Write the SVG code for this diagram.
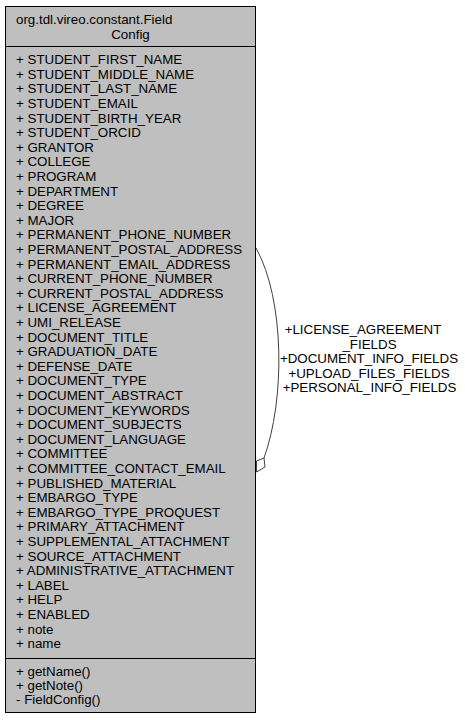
<svg xmlns="http://www.w3.org/2000/svg" width="465" height="720" viewBox="0 0 465 720">
<style>
text{font-family:"Liberation Sans",Arial,sans-serif;font-size:13.33px;fill:#000}
.box{fill:#bfbfbf;stroke:#000;stroke-width:1}
.div{stroke:#000;stroke-width:1}
.edge{fill:none;stroke:#404040;stroke-width:1}
.lbl{text-anchor:middle}
</style>
<rect width="465" height="720" fill="#fff"/>
<g id="connectors">
<path class="edge" d="M256,248 C285,300 285,400 264,458"/>
<polygon points="256.5,472 265,467 264,458 256.5,461" fill="#fff" stroke="#404040" stroke-width="1"/>
<text class="lbl" x="363" y="334">+LICENSE_AGREEMENT</text>
<text class="lbl" x="369.5" y="348.5">_FIELDS</text>
<text class="lbl" x="369" y="363">+DOCUMENT_INFO_FIELDS</text>
<text class="lbl" x="369" y="377.5">+UPLOAD_FILES_FIELDS</text>
<text class="lbl" x="369.5" y="392">+PERSONAL_INFO_FIELDS</text>
</g>
<g id="FieldConfig">
<rect class="box" x="5.5" y="6.5" width="250" height="706"/>
<line class="div" x1="5.5" y1="46.5" x2="255.5" y2="46.5"/>
<line class="div" x1="5.5" y1="658.5" x2="255.5" y2="658.5"/>
<text x="16" y="24.2">org.tdl.vireo.constant.Field</text>
<text x="130.5" y="38.8" text-anchor="middle">Config</text>
<text>
<tspan x="16" y="64.2">+ STUDENT_FIRST_NAME</tspan>
<tspan x="16" dy="14.6">+ STUDENT_MIDDLE_NAME</tspan>
<tspan x="16" dy="14.6">+ STUDENT_LAST_NAME</tspan>
<tspan x="16" dy="14.6">+ STUDENT_EMAIL</tspan>
<tspan x="16" dy="14.6">+ STUDENT_BIRTH_YEAR</tspan>
<tspan x="16" dy="14.6">+ STUDENT_ORCID</tspan>
<tspan x="16" dy="14.6">+ GRANTOR</tspan>
<tspan x="16" dy="14.6">+ COLLEGE</tspan>
<tspan x="16" dy="14.6">+ PROGRAM</tspan>
<tspan x="16" dy="14.6">+ DEPARTMENT</tspan>
<tspan x="16" dy="14.6">+ DEGREE</tspan>
<tspan x="16" dy="14.6">+ MAJOR</tspan>
<tspan x="16" dy="14.6">+ PERMANENT_PHONE_NUMBER</tspan>
<tspan x="16" dy="14.6">+ PERMANENT_POSTAL_ADDRESS</tspan>
<tspan x="16" dy="14.6">+ PERMANENT_EMAIL_ADDRESS</tspan>
<tspan x="16" dy="14.6">+ CURRENT_PHONE_NUMBER</tspan>
<tspan x="16" dy="14.6">+ CURRENT_POSTAL_ADDRESS</tspan>
<tspan x="16" dy="14.6">+ LICENSE_AGREEMENT</tspan>
<tspan x="16" dy="14.6">+ UMI_RELEASE</tspan>
<tspan x="16" dy="14.6">+ DOCUMENT_TITLE</tspan>
<tspan x="16" dy="14.6">+ GRADUATION_DATE</tspan>
<tspan x="16" dy="14.6">+ DEFENSE_DATE</tspan>
<tspan x="16" dy="14.6">+ DOCUMENT_TYPE</tspan>
<tspan x="16" dy="14.6">+ DOCUMENT_ABSTRACT</tspan>
<tspan x="16" dy="14.6">+ DOCUMENT_KEYWORDS</tspan>
<tspan x="16" dy="14.6">+ DOCUMENT_SUBJECTS</tspan>
<tspan x="16" dy="14.6">+ DOCUMENT_LANGUAGE</tspan>
<tspan x="16" dy="14.6">+ COMMITTEE</tspan>
<tspan x="16" dy="14.6">+ COMMITTEE_CONTACT_EMAIL</tspan>
<tspan x="16" dy="14.6">+ PUBLISHED_MATERIAL</tspan>
<tspan x="16" dy="14.6">+ EMBARGO_TYPE</tspan>
<tspan x="16" dy="14.6">+ EMBARGO_TYPE_PROQUEST</tspan>
<tspan x="16" dy="14.6">+ PRIMARY_ATTACHMENT</tspan>
<tspan x="16" dy="14.6">+ SUPPLEMENTAL_ATTACHMENT</tspan>
<tspan x="16" dy="14.6">+ SOURCE_ATTACHMENT</tspan>
<tspan x="16" dy="14.6">+ ADMINISTRATIVE_ATTACHMENT</tspan>
<tspan x="16" dy="14.6">+ LABEL</tspan>
<tspan x="16" dy="14.6">+ HELP</tspan>
<tspan x="16" dy="14.6">+ ENABLED</tspan>
<tspan x="16" dy="14.6">+ note</tspan>
<tspan x="16" dy="14.6">+ name</tspan>
</text>
<text>
<tspan x="16" y="675.6">+ getName()</tspan>
<tspan x="16" dy="14.4">+ getNote()</tspan>
<tspan x="16" dy="14.4">- FieldConfig()</tspan>
</text>
</g>
</svg>
